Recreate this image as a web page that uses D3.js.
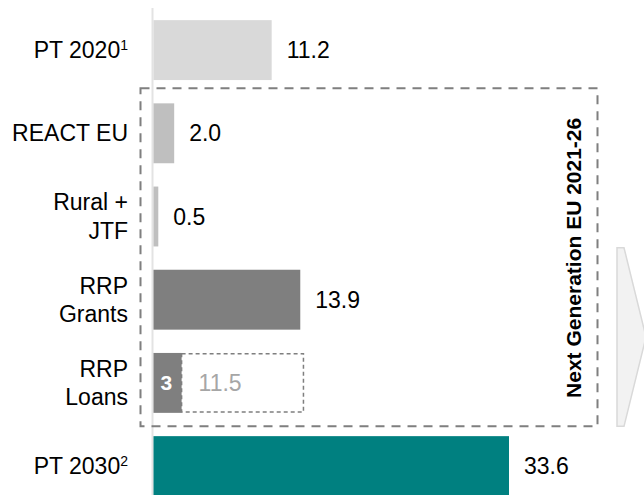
<!DOCTYPE html>
<html>
<head>
<meta charset="utf-8">
<script src="https://cdn.jsdelivr.net/npm/d3@7"></script>
<style>
  html, body { margin: 0; padding: 0; background: #fff; }
  svg { display: block; font-family: "Liberation Sans", Arial, sans-serif; }
</style>
</head>
<body>
<div id="chart"></div>
<script>
// ---- data ----
const categories = ["PT 2020", "REACT EU", "Rural + JTF", "RRP Grants", "RRP Loans", "PT 2030"];
const labelLines = [["PT 2020"], ["REACT EU"], ["Rural +", "JTF"], ["RRP", "Grants"], ["RRP", "Loans"], ["PT 2030"]];
const superscripts = ["1", "", "", "", "", "2"];
const values = [11.2, 2.0, 0.5, 13.9, 2.7, 33.6];
const valueLabels = ["11.2", "2.0", "0.5", "13.9", "3", "33.6"];
const loanPotential = 11.5;            // dashed extension on RRP Loans
const loanPotentialLabel = "11.5";
const barColors = ["#d9d9d9", "#bfbfbf", "#bfbfbf", "#7f7f7f", "#7f7f7f", "#008080"];
const groupLabel = "Next Generation EU 2021-26";
const groupMembers = ["REACT EU", "Rural + JTF", "RRP Grants", "RRP Loans"];

// ---- layout ----
const W = 644, H = 495;
const svg = d3.select("#chart").append("svg").attr("width", W).attr("height", H);

const x = d3.scaleLinear().domain([0, 33.6]).range([153, 509]);
const y = d3.scaleBand().domain(categories).range([8.5, 507.7]).paddingInner(0.28).paddingOuter(0.14);

const FS = 23;

// axis line
svg.append("line")
  .attr("x1", 152.5).attr("x2", 152.5).attr("y1", 8).attr("y2", H)
  .attr("stroke", "#e3e3e3").attr("stroke-width", 2);

// bars
svg.selectAll("rect.bar").data(categories).join("rect")
  .attr("class", "bar")
  .attr("x", x(0) + 0.5)
  .attr("y", d => y(d))
  .attr("width", (d, i) => x(values[i]) - x(0) - 0.5)
  .attr("height", y.bandwidth())
  .attr("fill", (d, i) => barColors[i]);

// dashed potential loans box
const li = categories.indexOf("RRP Loans");
svg.append("rect")
  .attr("x", x(values[li]))
  .attr("y", y("RRP Loans") + 0.75)
  .attr("width", x(values[li] + loanPotential) - x(values[li]))
  .attr("height", y.bandwidth() - 1.5)
  .attr("fill", "none").attr("stroke", "#7f7f7f").attr("stroke-width", 1.5)
  .attr("stroke-dasharray", "4,3");

svg.append("text")
  .attr("x", x(values[li]) + 17)
  .attr("y", y("RRP Loans") + y.bandwidth() / 2)
  .attr("dy", "0.35em")
  .attr("font-size", FS).attr("fill", "#a6a6a6")
  .text(loanPotentialLabel);

// category labels
const labels = svg.selectAll("text.cat").data(categories).join("text")
  .attr("class", "cat")
  .attr("text-anchor", "end")
  .attr("font-size", FS)
  .attr("fill", "#000");
labels.each(function(d, i) {
  const t = d3.select(this);
  const lines = labelLines[i];
  const cy = y(d) + y.bandwidth() / 2;
  const lh = 28.5;
  lines.forEach((ln, k) => {
    const baseline = cy + (k - (lines.length - 1) / 2) * lh + FS * 0.35;
    const ts = t.append("tspan").attr("x", 128).attr("y", baseline).text(ln);
    if (k === lines.length - 1 && superscripts[i]) {
      t.append("tspan").attr("font-size", 14).attr("dy", -8).text(superscripts[i]);
    }
  });
});

// value labels
svg.selectAll("text.val").data(categories).join("text")
  .attr("class", "val")
  .attr("x", (d, i) => d === "RRP Loans" ? (x(0) + x(values[i])) / 2 - 1 : x(values[i]) + 15)
  .attr("y", d => y(d) + y.bandwidth() / 2)
  .attr("dy", "0.35em")
  .attr("text-anchor", d => d === "RRP Loans" ? "middle" : "start")
  .attr("font-size", d => d === "RRP Loans" ? 21 : FS)
  .attr("font-weight", d => d === "RRP Loans" ? "bold" : "normal")
  .attr("fill", d => d === "RRP Loans" ? "#fff" : "#000")
  .text((d, i) => valueLabels[i]);

// Next Generation EU dashed group box
const gTop = y(groupMembers[0]) - 15;
const gBot = y(groupMembers[groupMembers.length - 1]) + y.bandwidth() + 13.5;
svg.append("rect")
  .attr("x", 140.5).attr("y", gTop)
  .attr("width", 597.5 - 140.5).attr("height", gBot - gTop)
  .attr("fill", "none").attr("stroke", "#7f7f7f").attr("stroke-width", 2)
  .attr("stroke-dasharray", "9,7");

svg.append("text")
  .attr("transform", `translate(581,${(gTop + gBot) / 2 + 0.5}) rotate(-90)`)
  .attr("text-anchor", "middle")
  .attr("font-size", 21).attr("font-weight", "bold")
  .attr("fill", "#000")
  .text(groupLabel);

// arrow chevron at right
const aTop = y("RRP Grants") - 22, aBot = gBot;
svg.append("path")
  .attr("d", `M617,${aTop} L624,${aTop} L646,${(aTop + aBot) / 2} L624,${aBot} L617,${aBot} Z`)
  .attr("fill", "#f2f2f2").attr("stroke", "#d9d9d9").attr("stroke-width", 1.5);
</script>
</body>
</html>
